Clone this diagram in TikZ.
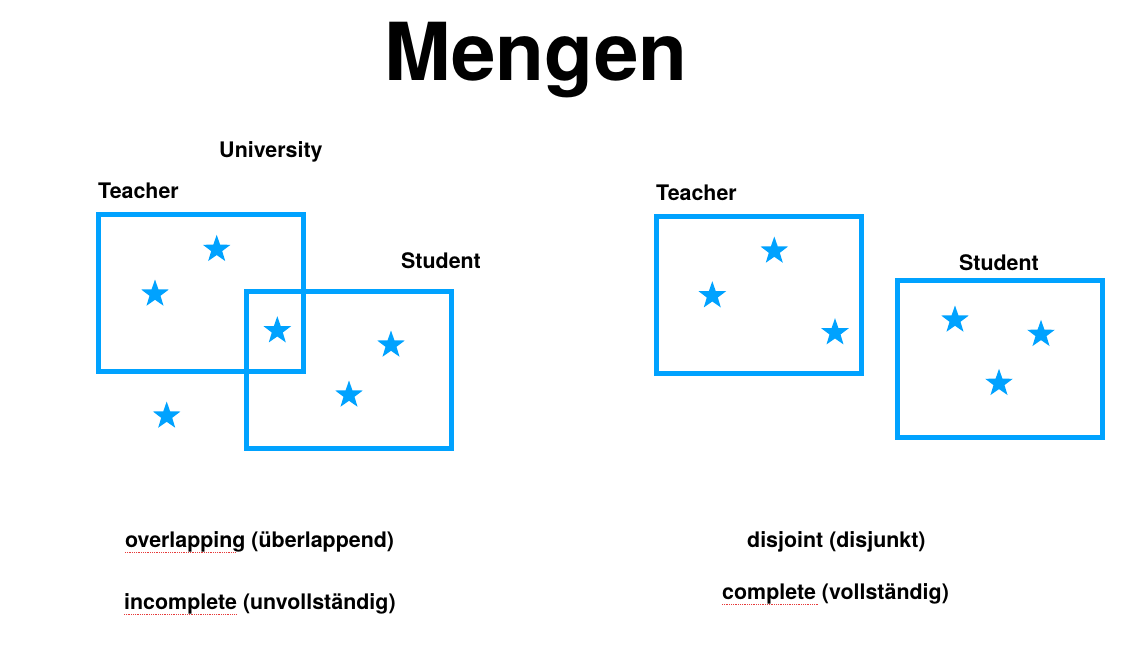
\documentclass[tikz,border=0pt]{standalone}
\usepackage{fontspec}
\setmainfont{TeX Gyre Heros}
\newfontfamily\heavyfont{TeX Gyre Heros Bold}
\usetikzlibrary{shapes.geometric, positioning}
\definecolor{keyblue}{RGB}{0,162,255}
\definecolor{spellred}{RGB}{230,60,60}

\begin{document}
\begin{tikzpicture}[x=1pt, y=-1pt]
  \tikzset{setbox/.style={draw=keyblue, line width=5pt, minimum width=205pt, minimum height=157pt, inner sep=0pt}};
  \tikzset{elem/.style={star, star points=5, star point ratio=2.5, fill=keyblue, minimum size=29pt, inner sep=0pt}};
  \tikzset{lbl/.style={font=\heavyfont\fontsize{21.4}{26}\selectfont, inner sep=0pt}};
  \tikzset{squiggle/.style={spellred, densely dotted, line width=0.8pt}};

  \useasboundingbox (0,0) rectangle (1141,661);

  \node[font=\heavyfont\fontsize{80}{90}\selectfont, inner sep=0pt] (title) at (536,60) {Mengen};

  % overlapping
  \node[setbox] (teacherA) at (200.5,293.3) {};
  \node[setbox] (studentA) at (348.8,369.8) {};
  \node[lbl, anchor=west] (univ) at (219,152) {University};
  \node[lbl, anchor=west] (teacherAl) at (98,191) {Teacher};
  \node[lbl, anchor=west] (studentAl) at (401,261) {Student};

  \node[elem] (a1) at (216.7,249.3) {};
  \node[elem] (a2) at (155,294) {};
  \node[elem] (a3) at (277.3,330.7) {};
  \node[elem] (a4) at (391,345) {};
  \node[elem] (a5) at (349,395) {};
  \node[elem] (a6) at (166.7,416) {};

  % disjoint
  \node[setbox] (teacherB) at (758.5,295.4) {};
  \node[setbox] (studentB) at (999.6,359.3) {};
  \node[lbl, anchor=west] (teacherBl) at (656,193) {Teacher};
  \node[lbl] (studentBl) at (999,263) {Student};

  \node[elem] (b1) at (774.3,251) {};
  \node[elem] (b2) at (712.3,295.7) {};
  \node[elem] (b3) at (835,332.7) {};
  \node[elem] (b4) at (955,320) {};
  \node[elem] (b5) at (1041,334.3) {};
  \node[elem] (b6) at (999,383.3) {};

  % captions
  \node[lbl, anchor=west] (over) at (125,542) {overlapping (überlappend)};
  \node[lbl, anchor=west] (incompl) at (124,604) {incomplete (unvollständig)};
  \node[lbl, anchor=west] (disj) at (747,542) {disjoint (disjunkt)};
  \node[lbl, anchor=west] (compl) at (722,594) {complete (vollständig)};

  \draw[squiggle] (125,552) -- (235,552);
  \draw[squiggle] (124,614.5) -- (237,614.5);
  \draw[squiggle] (722,604.5) -- (818,604.5);
\end{tikzpicture}
\end{document}
